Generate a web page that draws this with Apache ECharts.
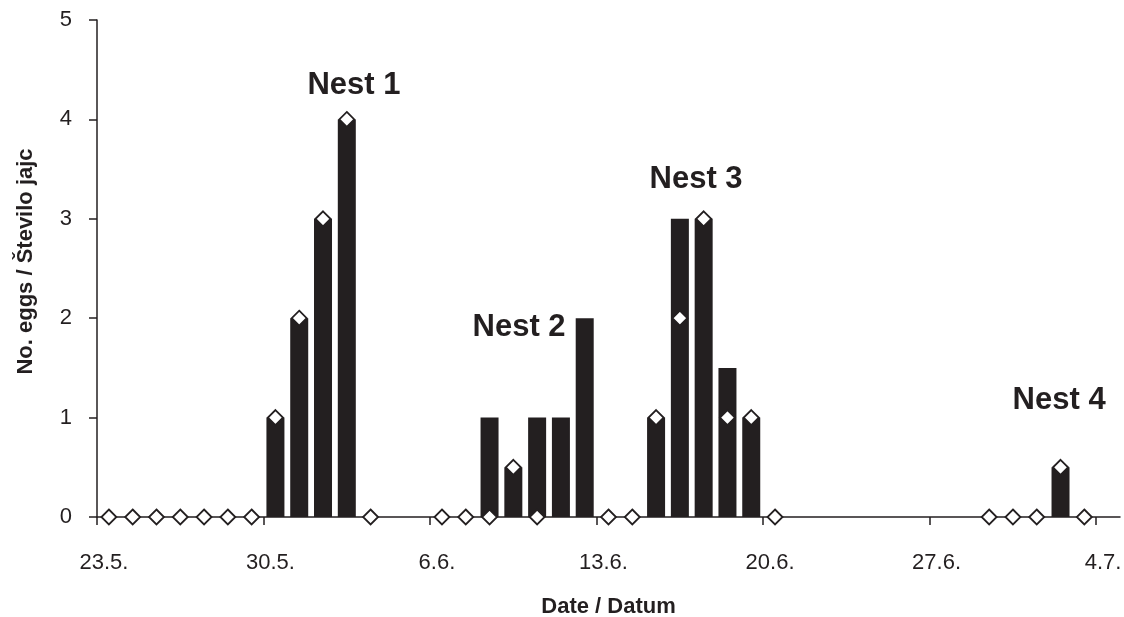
<!DOCTYPE html>
<html><head><meta charset="utf-8">
<script src="https://cdn.jsdelivr.net/npm/echarts@6/dist/echarts.min.js"></script>
<style>html,body{margin:0;padding:0;background:#fff;overflow:hidden;width:100%;height:100%}#c{width:100vw;height:100vh}</style>
</head><body><div id="c"></div>
<script>
// one entry per day, 23.5. to 4.7.
const dates = ['23.5.','24.5.','25.5.','26.5.','27.5.','28.5.','29.5.','30.5.','31.5.','1.6.',
  '2.6.','3.6.','4.6.','5.6.','6.6.','7.6.','8.6.','9.6.','10.6.','11.6.',
  '12.6.','13.6.','14.6.','15.6.','16.6.','17.6.','18.6.','19.6.','20.6.','21.6.',
  '22.6.','23.6.','24.6.','25.6.','26.6.','27.6.','28.6.','29.6.','30.6.','1.7.',
  '2.7.','3.7.','4.7.'];
// bars: number of eggs
const eggs = [null,null,null,null,null,null,null,1,2,3,
  4,null,null,null,null,null,1,0.5,1,1,
  2,null,null,1,3,3,1.5,1,null,null,
  null,null,null,null,null,null,null,null,null,null,
  0.5,null,null];
// diamonds
const checks = [0,0,0,0,0,0,0,1,2,3,
  4,0,null,null,0,0,0,0.5,0,null,
  null,0,0,1,2,3,1,1,0,null,
  null,null,null,null,null,null,null,0,0,0,
  0.5,0,null];
const tickLabels = ['23.5.','30.5.','6.6.','13.6.','20.6.','27.6.','4.7.'];
const nestNames = ['Nest 1','Nest 2','Nest 3','Nest 4'];
const nestDay = [10.8, 17.74, 25.18, 40.44];
const nestEggs = [4.34, 1.91, 3.40, 1.17];

const ink = '#231f20';
const tickDays = tickLabels.map(l => dates.indexOf(l));
const barData = [], checkData = [];
dates.forEach((d, i) => {
  if (eggs[i] !== null) barData.push([i + 0.5, eggs[i]]);
  if (checks[i] !== null) checkData.push([i + 0.5, checks[i]]);
});

const chart = echarts.init(document.getElementById('c'), null, {renderer: 'canvas'});
chart.setOption({
  animation: false,
  backgroundColor: '#fff',
  grid: {left: 97, right: 4, top: 20, bottom: 100, containLabel: false, outerBoundsMode: 'none'},
  xAxis: {
    type: 'value', min: 0, max: dates.length,
    name: 'Date / Datum', nameLocation: 'middle', nameGap: 79,
    nameTextStyle: {fontFamily: 'Liberation Sans, Arial, sans-serif', fontWeight: 'bold', fontSize: 22, color: ink, lineHeight: 22},
    axisLine: {show: true, onZero: false, lineStyle: {color: ink, width: 1.5}},
    axisTick: {show: true, inside: false, length: 8, customValues: tickDays, lineStyle: {color: ink, width: 1.5}},
    axisLabel: {
      show: true, margin: 35, customValues: tickDays.map(d => d + 0.5),
      formatter: v => dates[Math.floor(v)],
      fontFamily: 'Liberation Sans, Arial, sans-serif', fontSize: 22, color: ink, lineHeight: 22,
      padding: [0, 10, 0, 0]
    },
    splitLine: {show: false}
  },
  yAxis: {
    type: 'value', min: 0, max: 5, interval: 1,
    name: 'No. eggs / Število jajc', nameLocation: 'middle', nameGap: 60, nameRotate: 90,
    nameTextStyle: {fontFamily: 'Liberation Sans, Arial, sans-serif', fontWeight: 'bold', fontSize: 22, color: ink, lineHeight: 22, padding: [0, 0, 0, 14]},
    axisLine: {show: true, lineStyle: {color: ink, width: 1.5}},
    axisTick: {show: true, inside: false, length: 8, lineStyle: {color: ink, width: 1.5}},
    axisLabel: {margin: 25, fontFamily: 'Liberation Sans, Arial, sans-serif', fontSize: 22, color: ink},
    splitLine: {show: false}
  },
  series: [
    {
      type: 'bar', name: 'eggs', data: barData, barWidth: 18, z: 2,
      itemStyle: {color: ink},
      markPoint: {
        symbol: 'rect', symbolSize: 1, itemStyle: {color: 'rgba(0,0,0,0)'},
        label: {show: true, position: 'inside', formatter: p => p.name,
          fontFamily: 'Liberation Sans, Arial, sans-serif', fontWeight: 'bold', fontSize: 31, color: ink},
        data: nestNames.map((n, k) => ({name: n, coord: [nestDay[k], nestEggs[k]]}))
      }
    },
    {
      type: 'scatter', name: 'checks', data: checkData, symbol: 'diamond', symbolSize: 15, z: 3,
      itemStyle: {color: '#fff', borderColor: ink, borderWidth: 1.8, opacity: 1}
    }
  ]
});
</script></body></html>
